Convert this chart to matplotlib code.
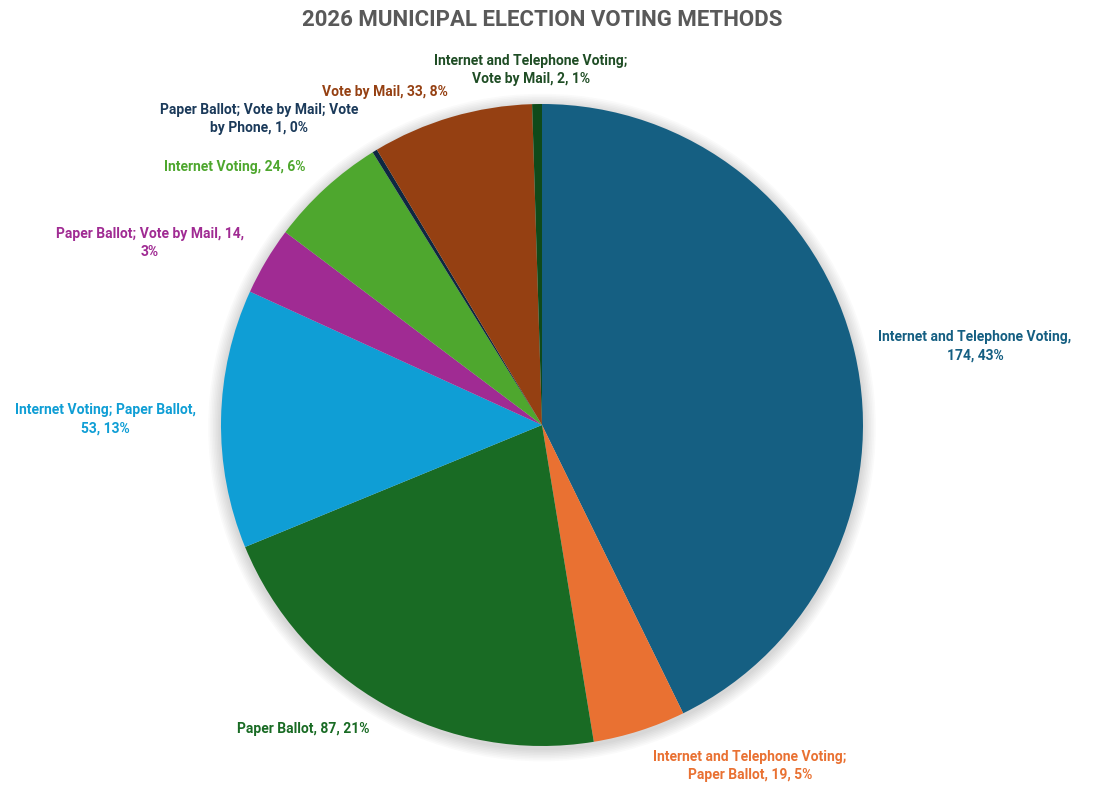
import matplotlib
matplotlib.use("Agg")
import matplotlib.pyplot as plt
from matplotlib.patches import Circle
from matplotlib import font_manager

categories = [
    "Internet and Telephone Voting",
    "Internet and Telephone Voting; Paper Ballot",
    "Paper Ballot",
    "Internet Voting; Paper Ballot",
    "Paper Ballot; Vote by Mail",
    "Internet Voting",
    "Paper Ballot; Vote by Mail; Vote by Phone",
    "Vote by Mail",
    "Internet and Telephone Voting; Vote by Mail",
]
values = [174, 19, 87, 53, 14, 24, 1, 33, 2]
colors = ["#155F82", "#E97132", "#196B24", "#0F9ED5", "#A02B93",
          "#4EA72E", "#0E2841", "#954012", "#0F4A1A"]
label_colors = ["#155F82", "#E97132", "#196B24", "#0F9ED5", "#A02B93",
                "#4EA72E", "#1B3A5A", "#954012", "#1F4D25"]
# label text as displayed (line breaks as in the chart)
label_texts = [
    "Internet and Telephone Voting,\n174, 43%",
    "Internet and Telephone Voting;\nPaper Ballot, 19, 5%",
    "Paper Ballot, 87, 21%",
    "Internet Voting; Paper Ballot,\n53, 13%",
    "Paper Ballot; Vote by Mail, 14,\n3%",
    "Internet Voting, 24, 6%",
    "Paper Ballot; Vote by Mail; Vote\nby Phone, 1, 0%",
    "Vote by Mail, 33, 8%",
    "Internet and Telephone Voting;\nVote by Mail, 2, 1%",
]
# label centre positions in pixels (x, y from top)
label_pos = [(975, 346), (750, 766), (303, 729), (105, 419), (150, 243),
             (235, 167), (259, 119), (385, 92), (531, 70)]

W, H = 1094, 791
fig = plt.figure(figsize=(W / 100, H / 100), dpi=100)
fig.patch.set_facecolor("white")

avail = {f.name for f in font_manager.fontManager.ttflist}
fam = ["Liberation Sans Narrow", "DejaVu Sans"] if "Liberation Sans Narrow" in avail else ["Roboto", "DejaVu Sans"]

cx, cy, r = 542, 425, 321
ax = fig.add_axes([(cx - r) / W, (H - cy - r) / H, 2 * r / W, 2 * r / H])
ax.set_xlim(-1, 1)
ax.set_ylim(-1, 1)
ax.set_aspect("equal")
ax.axis("off")

# soft shadow
for i in range(8):
    ax.add_patch(Circle((0.0, -0.008), 1.0 + 0.005 * (8 - i), color="black",
                        alpha=0.02, zorder=0, lw=0, clip_on=False))

wedges, _ = ax.pie(values, colors=colors, startangle=90, counterclock=False,
                   radius=1.0, wedgeprops=dict(linewidth=0), frame=False)
for w in wedges:
    w.set_clip_on(False)
ax.set_xlim(-1, 1)
ax.set_ylim(-1, 1)

for txt, (px, py), c in zip(label_texts, label_pos, label_colors):
    fig.text(px / W, 1 - py / H, txt, ha="center", va="center", color=c,
             fontsize=10, fontweight="bold", family=fam, linespacing=1.4)

fig.text(cx / W, 1 - 20 / H, "2026 MUNICIPAL ELECTION VOTING METHODS",
         ha="center", va="center", color="#595959", fontsize=16,
         fontweight="bold", family=fam)

fig.savefig("out.png", dpi=100, facecolor="white")
